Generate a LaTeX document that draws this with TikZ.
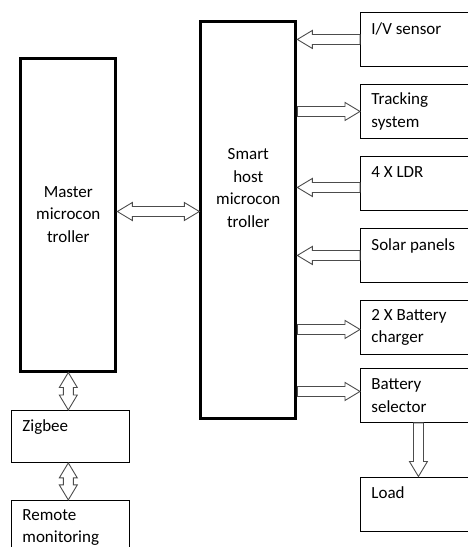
\documentclass[tikz,border=0pt]{standalone}
\usepackage{fontspec}
\setmainfont{Carlito}
\usetikzlibrary{positioning, calc}

\begin{document}
\begin{tikzpicture}[
  x=1pt, y=-1pt,
  font=\fontsize{17}{22.5}\selectfont,
  node distance=17.1pt,
  mcu/.style={draw, line width=3pt, minimum width=95pt, align=center},
  unit/.style={draw, line width=0.9pt, anchor=north west, minimum width=116pt, minimum height=54pt, text width=94pt, inner xsep=11pt, align=flush left},
  link/.style={draw=black!70, line width=0.9pt, fill=white, to path={
    ($(\tikztostart)!5pt!90:(\tikztotarget)$)
    -- ($(\tikztotarget)!15pt!(\tikztostart)!5pt!-90:(\tikztostart)$)
    -- ($(\tikztotarget)!15pt!(\tikztostart)!9pt!-90:(\tikztostart)$)
    -- (\tikztotarget)
    -- ($(\tikztotarget)!15pt!(\tikztostart)!9pt!90:(\tikztostart)$)
    -- ($(\tikztotarget)!15pt!(\tikztostart)!5pt!90:(\tikztostart)$)
    -- ($(\tikztostart)!5pt!-90:(\tikztotarget)$) -- cycle}},
  duplex/.style={draw=black!70, line width=0.9pt, fill=white, to path={
    (\tikztostart)
    -- ($(\tikztostart)!15pt!(\tikztotarget)!9pt!90:(\tikztotarget)$)
    -- ($(\tikztostart)!15pt!(\tikztotarget)!5pt!90:(\tikztotarget)$)
    -- ($(\tikztotarget)!15pt!(\tikztostart)!5pt!-90:(\tikztostart)$)
    -- ($(\tikztotarget)!15pt!(\tikztostart)!9pt!-90:(\tikztostart)$)
    -- (\tikztotarget)
    -- ($(\tikztotarget)!15pt!(\tikztostart)!9pt!90:(\tikztostart)$)
    -- ($(\tikztotarget)!15pt!(\tikztostart)!5pt!90:(\tikztostart)$)
    -- ($(\tikztostart)!15pt!(\tikztotarget)!5pt!-90:(\tikztotarget)$)
    -- ($(\tikztostart)!15pt!(\tikztotarget)!9pt!-90:(\tikztotarget)$)
    -- cycle}}
]
\clip (0,0) rectangle (468,547);

\node[mcu, minimum height=313pt] (master) at (68.3,214.5) {Master\\microcon\\troller};
\node[mcu, minimum height=397pt, label={[align=center, yshift=32pt]center:Smart\\host\\microcon\\troller}] (host) at (248.3,220) {};

\node[unit] (iv) at (360,12) {I/V sensor\\~};
\node[unit, below=of iv] (track) {Tracking\\system};
\node[unit, below=of track] (ldr) {4 X LDR\\~};
\node[unit, below=of ldr] (solar) {Solar panels\\~};
\node[unit, below=of solar] (charger) {2 X Battery\\charger};
\node[unit, below=13.1pt of charger] (selector) {Battery\\selector};
\node[unit, below=53.6pt of selector] (load) {Load\\~};

\node[unit, minimum width=118pt, text width=96pt, minimum height=52pt] (zigbee) at (11,410) {Zigbee\\~};
\node[unit, minimum width=118pt, text width=96pt, below=37pt of zigbee] (remote) {Remote\\monitoring};

\draw[link] (iv.west) to (iv.west -| host.east);
\draw[link] (track.west -| host.east) to (track.west);
\draw[link] ([yshift=-4pt]ldr.west) to ([yshift=-4pt]ldr.west -| host.east);
\draw[link] (solar.west) to (solar.west -| host.east);
\draw[link] ([yshift=-2pt]charger.west -| host.east) to ([yshift=-2pt]charger.west);
\draw[link] ([yshift=4pt]selector.west -| host.east) to ([yshift=4pt]selector.west);
\draw[link] (selector.south) to (load.north);
\draw[duplex] ([yshift=3pt]master.east) to ([yshift=3pt]master.east -| host.west);
\draw[duplex] (master.south) to (master.south |- zigbee.north);
\draw[duplex] (zigbee.south -| master.south) to (remote.north -| master.south);
\end{tikzpicture}
\end{document}
